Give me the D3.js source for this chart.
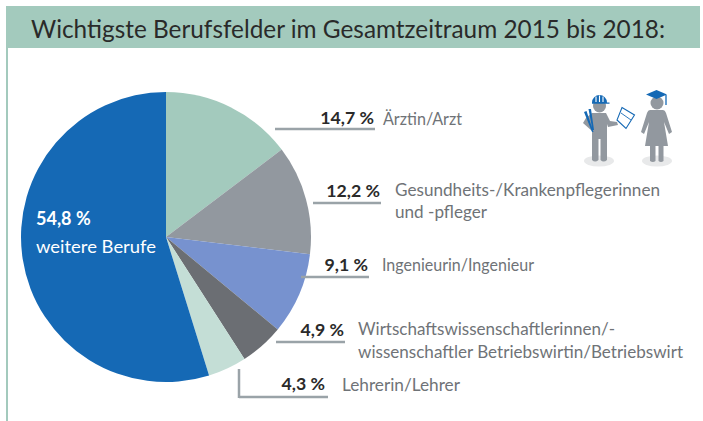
<!DOCTYPE html>
<html>
<head>
<meta charset="utf-8">
<script src="https://cdn.jsdelivr.net/npm/d3@7"></script>
<style>
  html, body { margin: 0; padding: 0; background: #fff; }
  text { font-family: Lato, "Open Sans", sans-serif; }
</style>
</head>
<body>
<script>
const width = 703;
const height = 421;

const categories = ['Ärztin/Arzt', 'Gesundheits-/Krankenpflegerinnen und -pfleger', 'Ingenieurin/Ingenieur',
  'Wirtschaftswissenschaftlerinnen/-wissenschaftler Betriebswirtin/Betriebswirt', 'Lehrerin/Lehrer', 'weitere Berufe'];
const values = [14.7, 12.2, 9.1, 4.9, 4.3, 54.8];
const valueLabels = ['14,7 %', '12,2 %', '9,1 %', '4,9 %', '4,3 %', '54,8 %'];
const sliceColors = ['#a3cabd', '#92989f', '#7792cf', '#6b6e73', '#c4ded6', '#1569b5'];
const titleText = 'Wichtigste Berufsfelder im Gesamtzeitraum 2015 bis 2018:';

// label layout: value right edge, rule under the value, category lines
const labelRows = [
  { valueX: 374, valueY: 124, ruleX: [275, 375], ruleY: 129, textX: 383, lines: [[categories[0], 125, 79]] },
  { valueX: 380, valueY: 197, ruleX: [313, 381], ruleY: 203, textX: 395, lines: [['Gesundheits-/Krankenpflegerinnen', 196, 265], ['und -pfleger', 218, 92]] },
  { valueX: 368, valueY: 271, ruleX: [301, 369], ruleY: 277, textX: 382, lines: [[categories[2], 271, 152]] },
  { valueX: 344, valueY: 336, ruleX: [276, 345], ruleY: 342, textX: 358, lines: [['Wirtschaftswissenschaftlerinnen/-', 335, 257], ['wissenschaftler Betriebswirtin/Betriebswirt', 358, 325]] },
  { valueX: 325, valueY: 390, ruleX: [239, 328], ruleY: 397, textX: 342, lines: [[categories[4], 391, 118]] }
];

const svg = d3.select('body')
  .append('svg')
  .attr('width', width)
  .attr('height', height)
  .style('display', 'block');

// header band and left edge
svg.append('rect')
  .attr('x', 6).attr('y', 6)
  .attr('width', 694).attr('height', 42)
  .style('fill', '#a3cabd');

svg.append('rect')
  .attr('x', 6).attr('y', 48)
  .attr('width', 2).attr('height', 373)
  .style('fill', '#a3cabd');

svg.append('text')
  .attr('x', 31).attr('y', 38)
  .attr('textLength', 634)
  .attr('lengthAdjust', 'spacingAndGlyphs')
  .style('font-size', '25px')
  .style('fill', '#2a2a2a')
  .text(titleText);

// pie
const pie = d3.pie().sort(null).value(d => d);
const arc = d3.arc().innerRadius(0).outerRadius(145);

svg.append('g')
  .attr('transform', 'translate(166,237)')
  .selectAll('path')
  .data(pie(values))
  .join('path')
  .attr('d', arc)
  .style('fill', (d, i) => sliceColors[i]);

// rules
labelRows.forEach((row, i) => {
  svg.append('line')
    .attr('x1', row.ruleX[0]).attr('x2', row.ruleX[1])
    .attr('y1', row.ruleY).attr('y2', row.ruleY)
    .style('stroke', '#9aa3a8').style('stroke-width', 2.5);

  svg.append('text')
    .attr('x', row.valueX).attr('y', row.valueY)
    .attr('text-anchor', 'end')
    .style('font-size', '17.7px').style('font-weight', 700)
    .style('fill', '#2a2a2a')
    .text(valueLabels[i]);

  row.lines.forEach(([line, y, len]) => {
    svg.append('text')
      .attr('x', row.textX).attr('y', y)
      .attr('textLength', len)
      .attr('lengthAdjust', 'spacingAndGlyphs')
      .style('font-size', '16.5px')
      .style('fill', '#6f7377')
      .text(line);
  });
});

// elbow on the Lehrerin rule
svg.append('line')
  .attr('x1', 239).attr('x2', 239)
  .attr('y1', 369).attr('y2', 398)
  .style('stroke', '#9aa3a8').style('stroke-width', 2.5);

// label inside the big slice
svg.append('text')
  .attr('x', 36).attr('y', 225)
  .style('font-size', '18px').style('font-weight', 700)
  .style('fill', '#fff')
  .text(valueLabels[5]);

svg.append('text')
  .attr('x', 36).attr('y', 253)
  .attr('textLength', 120)
  .attr('lengthAdjust', 'spacingAndGlyphs')
  .style('font-size', '17.5px')
  .style('fill', '#fff')
  .text(categories[5]);

// pictogram: builder and graduate
const icons = svg.append('g');
const gray = '#92989f';
const blue = '#1569b5';

// shadows
icons.append('ellipse').attr('cx', 599).attr('cy', 161).attr('rx', 15).attr('ry', 5.5).style('fill', '#e8e9ea');
icons.append('ellipse').attr('cx', 657).attr('cy', 161).attr('rx', 15).attr('ry', 5.5).style('fill', '#e8e9ea');

// builder
icons.append('circle').attr('cx', 599.5).attr('cy', 106).attr('r', 6.5).style('fill', gray);
icons.append('path').attr('d', 'M592 113 H606 L610 121 L617 122 L618 125 L608 127 L607 124 V139 H592 V131 L583 123 L586 118 Z').style('fill', gray);
icons.append('path').attr('d', 'M592 137 H598.5 V160 Q595 163 592 160 Z M600.5 137 H607 V160 Q603.5 163 600.5 160 Z').style('fill', gray);
// helmet with its white ribs
icons.append('path').attr('d', 'M592 102.5 A7.5 7.5 0 0 1 607 102.5 H609.5 V103.8 H592 Z').style('fill', blue);
icons.append('path').attr('d', 'M596 96.5 V102 M599.5 95.5 V102 M603 96.5 V102').style('stroke', '#fff').style('stroke-width', 1.1);
// rolled plans
icons.append('path').attr('d', 'M584 112 L586.5 111 L593.5 132 L592 132 Z M588.5 109 L591 109 L594 130 L592.5 130 Z').style('fill', blue);
// open book
icons.append('path').attr('d', 'M622 107.5 L634.5 115 L626 128.5 L617 120 Z').style('fill', '#fff').style('stroke', blue).style('stroke-width', 1.1);
icons.append('path').attr('d', 'M621 113 L631 120').style('stroke', blue).style('stroke-width', 0.9);

// graduate
icons.append('circle').attr('cx', 657).attr('cy', 103).attr('r', 6.5).style('fill', gray);
icons.append('path').attr('d', 'M650 110 H663 Q665 110 666 113 L672 132 L669 134 L664 122 L668 146 H645 L649 122 L644 134 L641 132 L647 113 Q648 110 650 110 Z').style('fill', gray);
icons.append('path').attr('d', 'M650 146 H655.5 V161 Q653 163 650 161 Z M658.5 146 H663.5 V161 Q661 163 658.5 161 Z').style('fill', gray);
icons.append('path').attr('d', 'M646 94.5 L656.5 90 L667 94.5 L656.5 99 Z').style('fill', blue);
icons.append('path').attr('d', 'M666 95 V105').style('stroke', blue).style('stroke-width', 1.3).style('fill', 'none');
</script>
</body>
</html>
